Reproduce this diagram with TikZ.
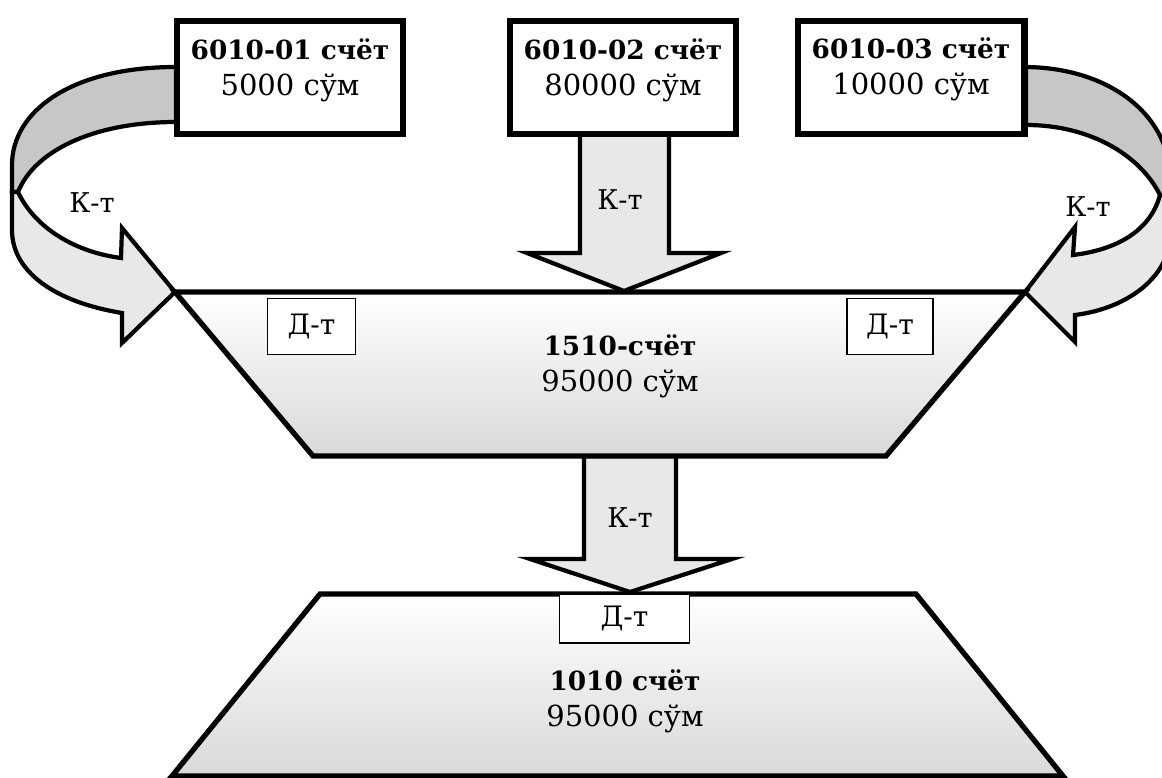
\documentclass[tikz,border=0pt]{standalone}
\usepackage{fontspec}
\setmainfont{DejaVu Serif}
\newcommand\acctname[1]{{\fontsize{15}{20.5}\selectfont\bfseries #1}}
\begin{document}
\begin{tikzpicture}[x=0.02cm, y=-0.02cm, line join=miter,
	acc/.style={draw, line width=3.6pt, fill=white, minimum width=129pt, minimum height=64pt, inner sep=0pt},
	flow/.style={draw, line width=2.4pt, fill=black!9},
	back/.style={draw, line width=2.4pt, fill=black!22},
	funnel/.style={draw, line width=3pt, top color=white, bottom color=black!15},
	dtbox/.style={draw, line width=0.7pt, fill=white, inner sep=0pt, font=\fontsize{16}{18}\selectfont},
	big/.style={font=\fontsize{16.5}{20.5}\selectfont, align=center},
	small/.style={font=\fontsize{15.5}{18}\selectfont}]
	\clip (0,0) rectangle (1162,777);
	
	\path
	(175,292) coordinate (A) (1025,292) coordinate (B)
	(886,456) coordinate (C) (313,456) coordinate (D)
	(320,594) coordinate (E) (916,594) coordinate (F)
	(1063,776) coordinate (G) (172,776) coordinate (H);
	
	% left ribbon
	\draw[back] (176,67) .. controls (70,67) and (12,112) .. (12,165) -- (12,192) -- (18,192)
	.. controls (35,150) and (95,122) .. (176,122) -- cycle;
	\draw[flow] (18,192) .. controls (35,228) and (75,252) .. (121,258) -- (122,228) -- (A)
	-- (122,343) -- (122,313) .. controls (55,302) and (12,272) .. (12,230) -- (12,192) -- cycle;
	
	% right ribbon
	\draw[back] (1026,67) .. controls (1110,68) and (1168,115) .. (1170,175) -- (1170,195) -- (1160,195)
	.. controls (1140,155) and (1090,125) .. (1026,125) -- cycle;
	\draw[flow] (1160,195) .. controls (1150,232) and (1115,250) .. (1073,255) -- (1075,227) -- (B)
	-- (1075,342) -- (1075,315) .. controls (1130,308) and (1170,275) .. (1170,235) -- (1170,195) -- cycle;
	
	% straight arrows
	\draw[flow] (580,134) -- (580,253) -- (527,253) -- (624,291) -- (721,253) -- (669,253) -- (669,134) -- cycle;
	\draw[flow] (584,456) -- (584,559) -- (530,559) -- (630,592) -- (732,559) -- (676,559) -- (676,456) -- cycle;
	
	% funnels
	\draw[funnel] (A) -- (B) -- (C) -- (D) -- cycle;
	\draw[funnel] (E) -- (F) -- (G) -- (H) -- cycle;
	
	% accounts
	\foreach \n/\x in {b1/290, b2/623, b3/911}
	\node[acc] (\n) at (\x,77.5) {};
	\node[big] (t1) at (290,70) {\acctname{6010-01 счёт}\\5000 сўм};
	\node[big] (t2) at (623,70) {\acctname{6010-02 счёт}\\80000 сўм};
	\node[big] (t3) at (911,69) {\acctname{6010-03 счёт}\\10000 сўм};
	\node[big] (t4) at (620,366) {\acctname{1510-счёт}\\95000 сўм};
	\node[big] (t5) at (625,701) {\acctname{1010 счёт}\\95000 сўм};
	
	% debit boxes
	\node[dtbox, minimum width=50.5pt, minimum height=32pt] (d1) at (311.5,326.5) {Д-т};
	\node[dtbox, minimum width=49pt, minimum height=32pt] (d2) at (890,326.5) {Д-т};
	\node[dtbox, minimum width=74pt, minimum height=28pt] (d3) at (624.5,618.5) {Д-т};
	
	% credit labels
	\foreach \n/\p in {k1/{(92,203)}, k2/{(620,200)}, k3/{(1088,207)}, k4/{(630,518)}}
	\node[small] (\n) at \p {К-т};
\end{tikzpicture}
\end{document}
